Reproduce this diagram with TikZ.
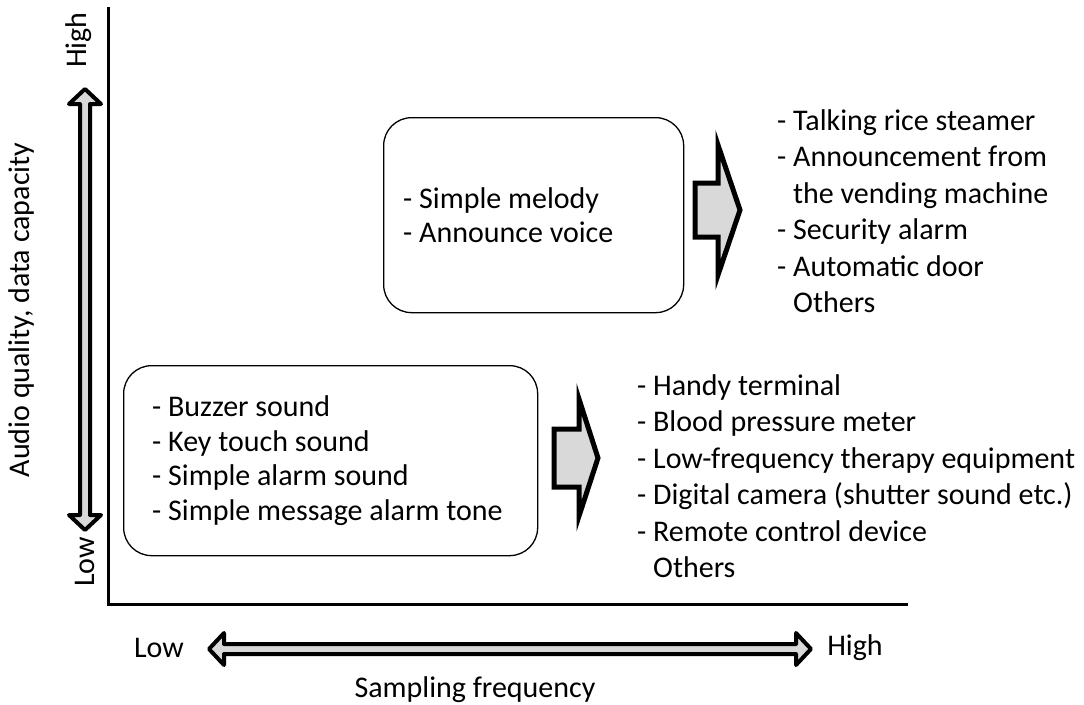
\documentclass[tikz,border=0pt]{standalone}
\usepackage{fontspec}
\setmainfont{Carlito}
\definecolor{arrowgray}{HTML}{D9D9D9}
\begin{document}
\begin{tikzpicture}[x=1pt,y=-1pt]
\useasboundingbox (0,0) rectangle (1084,704);
\tikzset{
  txt/.style={font=\fontsize{30}{36.5}\selectfont, inner sep=0pt, align=left},
  boxtxt/.style={font=\fontsize{30}{34.5}\selectfont, inner sep=0pt, align=left},
  lbl/.style={font=\fontsize{30}{34}\selectfont, inner sep=0pt},
  roundbox/.style={draw, line width=1.3pt, rounded corners=28pt, inner sep=0pt},
  blockarrow/.style={draw, line width=5pt, fill=arrowgray, line join=miter},
  dblarrow/.style={draw, line width=4pt, fill=arrowgray, line join=round},
}

% axes
\coordinate (ytop) at (108,7);
\coordinate (origin) at (108,604);
\coordinate (xend) at (908,604);
\draw[line width=3pt] (ytop) -- (origin) -- (xend);

% vertical scale arrow and its labels
\draw[dblarrow] (85,89) -- (101,104) -- (90,104) -- (90,515) -- (101,515)
  -- (85,530) -- (69,515) -- (80,515) -- (80,104) -- (69,104) -- cycle;
\node[lbl, rotate=90] (yhigh) at (79,40) {High};
\node[lbl, rotate=90] (ylow) at (85,562) {Low};
\node[lbl, rotate=90] (ytitle) at (22,310) {Audio quality, data capacity};

% horizontal scale arrow and its labels
\draw[dblarrow] (209,649) -- (224,633) -- (224,644) -- (796,644) -- (796,633)
  -- (811,649) -- (796,665) -- (796,654) -- (224,654) -- (224,665) -- cycle;
\node[lbl] (xlow) at (159,648) {Low};
\node[lbl] (xhigh) at (855,648) {High};
\node[lbl] (xtitle) at (475,690) {Sampling frequency};

% sound categories
\node[roundbox, anchor=north west, minimum width=414pt, minimum height=190pt]
  (lowbox) at (123,365) {};
\node[boxtxt, anchor=west] (lowtext) at ([xshift=29pt]lowbox.west)
  {- Buzzer sound\\- Key touch sound\\- Simple alarm sound\\- Simple message alarm tone};
\node[roundbox, anchor=north west, minimum width=300pt, minimum height=195pt]
  (highbox) at (383,117) {};
\node[boxtxt, anchor=west] (hightext) at ([xshift=20pt]highbox.west)
  {- Simple melody\\- Announce voice};

% block arrows towards the applications
\draw[blockarrow] (554,429) -- (579,429) -- (579,399) -- (598,458)
  -- (579,516) -- (579,487) -- (554,487) -- cycle;
\draw[blockarrow] (695,183) -- (718,183) -- (718,145) -- (740,210)
  -- (718,275) -- (718,237) -- (695,237) -- cycle;

% applications
\node[txt, anchor=west] (highapps) at (777,211)
  {- Talking rice steamer\\- Announcement from\\\hphantom{-~}the vending machine\\- Security alarm\\- Automatic door\\\hphantom{-~}Others};
\node[txt, anchor=west] (lowapps) at (637,476)
  {- Handy terminal\\- Blood pressure meter\\- Low-frequency therapy equipment\\- Digital camera (shutter sound etc.)\\- Remote control device\\\hphantom{-~}Others};
\end{tikzpicture}
\end{document}
